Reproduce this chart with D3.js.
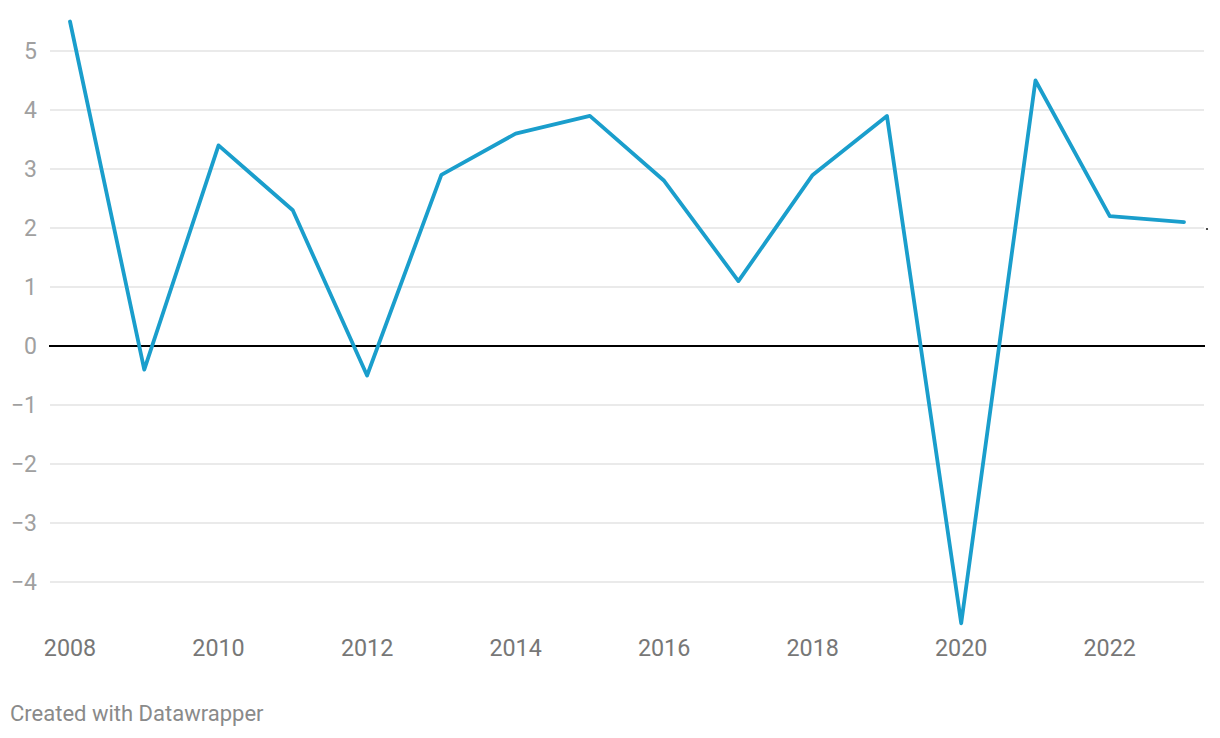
<!DOCTYPE html>
<html><head><meta charset="utf-8">
<script src="https://cdn.jsdelivr.net/npm/d3@7"></script>
<style>
html,body{margin:0;padding:0;background:#fff;}
svg{display:block;font-family:Roboto,"Noto Sans",sans-serif;}
</style></head>
<body>
<svg id="chart" width="1220" height="738"></svg>
<script>
const years = [2008,2009,2010,2011,2012,2013,2014,2015,2016,2017,2018,2019,2020,2021,2022,2023];
const values = [5.5,-0.4,3.4,2.3,-0.5,2.9,3.6,3.9,2.8,1.1,2.9,3.9,-4.7,4.5,2.2,2.1];
const yTicks = [-4,-3,-2,-1,0,1,2,3,4,5];
const xTicks = [2008,2010,2012,2014,2016,2018,2020,2022];
const credit = "Created with Datawrapper";

const svg = d3.select("#chart");
const x = d3.scaleLinear().domain([2008,2023]).range([70,1184]);
const y = d3.scaleLinear().domain([0,5]).range([346,51]);
const gridX0 = 50, gridX1 = 1204;

const grid = svg.append("g");
grid.selectAll("line").data(yTicks.filter(d=>d!==0)).join("line")
  .attr("x1",gridX0).attr("x2",gridX1)
  .attr("y1",d=>y(d)).attr("y2",d=>y(d))
  .attr("stroke","#e3e3e3").attr("stroke-width",1.3);

svg.append("g").selectAll("text").data(yTicks).join("text")
  .attr("x",37).attr("y",d=>y(d)).attr("dy","0.35em")
  .attr("text-anchor","end").attr("font-size",23).attr("fill","#a0a0a0")
  .text(d=>d<0?"\u2212"+Math.abs(d):d);

svg.append("line").attr("x1",gridX0-1).attr("x2",gridX1+1)
  .attr("y1",y(0)).attr("y2",y(0)).attr("stroke","#000").attr("stroke-width",1.8);

svg.append("g").selectAll("text").data(xTicks).join("text")
  .attr("x",d=>x(d)).attr("y",656).attr("text-anchor","middle")
  .attr("font-size",23.3).attr("fill","#777").text(d=>d);

const line = d3.line().x((d,i)=>x(years[i])).y(d=>y(d)).curve(d3.curveLinear);
svg.append("path").datum(values).attr("d",line)
  .attr("fill","none").attr("stroke","#1a9ecc").attr("stroke-width",3.8)
  .attr("stroke-linejoin","round").attr("stroke-linecap","round");

svg.append("circle").attr("cx",gridX1+3).attr("cy",y(2)+1).attr("r",1.1).attr("fill","#222");

svg.append("text").attr("x",10).attr("y",721).attr("font-size",22).attr("fill","#8a8a8a").text(credit);
</script>
</body></html>
